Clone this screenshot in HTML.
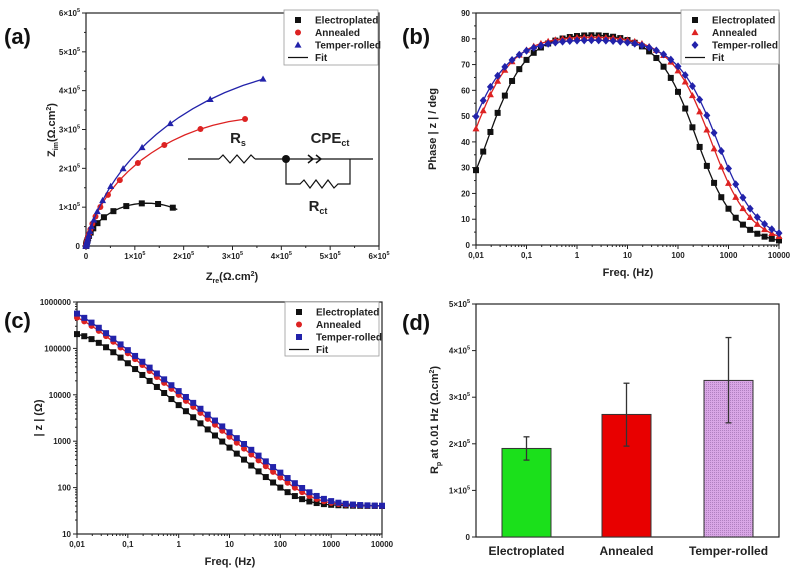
<!DOCTYPE html>
<html><head><meta charset="utf-8"><style>
html,body{margin:0;padding:0;background:#fff;}
svg{display:block;font-family:"Liberation Sans",Arial,sans-serif;}
.t{font-size:8px;font-weight:bold;fill:#222;}
.al{font-size:11px;font-weight:bold;fill:#222;}
.pl{font-size:22px;font-weight:bold;fill:#111;}
.lg{font-size:10px;font-weight:bold;fill:#222;}
</style></head><body>
<svg id="s" width="800" height="570" viewBox="0 0 800 570" xmlns="http://www.w3.org/2000/svg">
<text class="pl" x="4" y="44">(a)</text>
<text class="pl" x="402" y="44">(b)</text>
<text class="pl" x="4" y="328">(c)</text>
<text class="pl" x="402" y="330">(d)</text>
<g id="g"></g>
</svg>
<script>
var g=document.getElementById('g'),out='';
function L(x1,y1,x2,y2,c,w){out+='<line x1="'+x1+'" y1="'+y1+'" x2="'+x2+'" y2="'+y2+'" stroke="'+(c||'#222')+'" stroke-width="'+(w||1)+'"/>';}
function T(x,y,s,cls,anc,extra){out+='<text class="'+cls+'" x="'+x+'" y="'+y+'" text-anchor="'+(anc||'middle')+'" '+(extra||'')+'>'+s+'</text>';}
function M(type,x,y,c){var r=3;
 if(type=='s')out+='<rect x="'+(x-r)+'" y="'+(y-r)+'" width="'+2*r+'" height="'+2*r+'" fill="'+c+'"/>';
 else if(type=='c')out+='<circle cx="'+x+'" cy="'+y+'" r="'+r+'" fill="'+c+'"/>';
 else if(type=='t')out+='<polygon points="'+x+','+(y-3.6)+' '+(x-3.5)+','+(y+2.6)+' '+(x+3.5)+','+(y+2.6)+'" fill="'+c+'"/>';
 else if(type=='d')out+='<polygon points="'+x+','+(y-4)+' '+(x+3.5)+','+y+' '+x+','+(y+4)+' '+(x-3.5)+','+y+'" fill="'+c+'"/>';}
function P(pts,c){out+='<polyline fill="none" stroke="'+c+'" stroke-width="1.3" points="'+pts.map(p=>p[0].toFixed(1)+','+p[1].toFixed(1)).join(' ')+'"/>';}
function box(x1,y1,x2,y2){out+='<rect x="'+x1+'" y="'+y1+'" width="'+(x2-x1)+'" height="'+(y2-y1)+'" fill="none" stroke="#222" stroke-width="1.2"/>';}
var S=[{Rs:40,Rct:2.5e5,Q:3.07e-5,n:0.92,c:'#111'},{Rs:40,Rct:7.7e5,Q:1.9e-5,n:0.905,c:'#d22'},{Rs:40,Rct:1.1e6,Q:1.62e-5,n:0.89,c:'#22a'}];
function Z(s,f){var w=2*Math.PI*f,m=s.Q*Math.pow(w,s.n),a=s.n*Math.PI/2;
 var yr=1/s.Rct+m*Math.cos(a),yi=m*Math.sin(a),d=yr*yr+yi*yi;
 var zr=s.Rs+yr/d,zi=yi/d; return {r:zr,i:zi,mag:Math.hypot(zr,zi),ph:Math.atan2(zi,zr)*180/Math.PI};}
function sup(b,e){return b+'×10<tspan dy="-4" font-size="5.5">'+e+'</tspan>';}
function legend(x1,y1,x2,y2,items){out+='<rect x="'+x1+'" y="'+y1+'" width="'+(x2-x1)+'" height="'+(y2-y1)+'" fill="#fff" stroke="#999" stroke-width="0.8"/>';
 items.forEach((it,i)=>{var y=y1+10+i*12.5;if(it[0]=='l')L(x1+4,y,x1+24,y,'#111',1.3);else M(it[0],x1+14,y,it[1]);T(x1+31,y+3.5,it[2],'lg','start');});}
(function(){var X0=86,X1=379,Y0=246,Y1=13;var sx=v=>X0+v/6e5*(X1-X0),sy=v=>Y0-v/6e5*(Y0-Y1);
 box(X0,Y1,X1,Y0);
 for(var k=0;k<=6;k++){var x=sx(k*1e5),y=sy(k*1e5);L(x,Y0,x,Y0+4);L(X0-4,y,X0,y);
  T(x,Y0+13,k?sup(k,5):'0','t');T(X0-6,y+3,k?sup(k,5):'0','t','end');
  if(k<6){L(sx(k*1e5+5e4),Y0,sx(k*1e5+5e4),Y0+2);L(X0-2,sy(k*1e5+5e4),X0,sy(k*1e5+5e4));}}
 T(232,280,'Z<tspan dy="3" font-size="7">re</tspan><tspan dy="-3">(Ω.cm</tspan><tspan dy="-4" font-size="7">2</tspan><tspan dy="4">)</tspan>','al');
 out+='<text class="al" transform="translate(55,130) rotate(-90)" text-anchor="middle">Z<tspan dy="3" font-size="7">im</tspan><tspan dy="-3">(Ω.cm</tspan><tspan dy="-4" font-size="7">2</tspan><tspan dy="4">)</tspan></text>';
 var mk=['s','c','t'];var ends=[0.0085,0.0093,0.0096];
 S.forEach((s,j)=>{var pts=[];for(var e=4;e>=Math.log10(ends[j]);e-=0.05){var z=Z(s,Math.pow(10,e));pts.push([sx(z.r),sy(z.i)]);}P(pts,s.c);
  for(var k=0;k<=42;k++){var f=Math.pow(10,4-k/7);if(f<0.0099)break;var z=Z(s,f);if(z.i<3e3&&k%3)continue;M(mk[j],sx(z.r),sy(z.i),s.c);}});
 legend(284,10,378,65,[['s','#111','Electroplated'],['c','#d22','Annealed'],['t','#22a','Temper-rolled'],['l','','Fit']]);
 var cy=159;L(188,cy,219,cy,'#111',1.2);out+='<polyline fill="none" stroke="#111" stroke-width="1.2" points="219,159 223,155 230,163 237,155 244,163 251,155 255,159"/>';
 L(255,cy,373,cy,'#111',1.2);out+='<circle cx="286" cy="159" r="4" fill="#111"/>';
 out+='<polyline fill="none" stroke="#111" stroke-width="1.5" points="308,155 313,159 308,163"/><polyline fill="none" stroke="#111" stroke-width="1.5" points="316,155 321,159 316,163"/>';
 out+='<polyline fill="none" stroke="#111" stroke-width="1.2" points="286,159 286,184 300,184 304,180 310,188 316,180 322,188 328,180 334,188 338,184 350,184 350,159"/>';
 T(238,143,'R<tspan dy="3" font-size="9">s</tspan>','al','middle','style="font-size:15px"');
 T(330,143,'CPE<tspan dy="3" font-size="9">ct</tspan>','al','middle','style="font-size:15px"');
 T(318,211,'R<tspan dy="3" font-size="9">ct</tspan>','al','middle','style="font-size:15px"');
})();
function logX(X0,X1,Y0){var sx=f=>X0+(Math.log10(f)+2)/6*(X1-X0);var lab=['0,01','0,1','1','10','100','1000','10000'];
 for(var d=-2;d<=4;d++){var x=sx(Math.pow(10,d));L(x,Y0,x,Y0+4);T(x,Y0+13,lab[d+2],'t');if(d<4)for(var m=2;m<10;m++){var xm=sx(m*Math.pow(10,d));L(xm,Y0,xm,Y0+2);}}return sx;}
(function(){var X0=476,X1=779,Y0=245,Y1=13;box(X0,Y1,X1,Y0);var sx=logX(X0,X1,Y0),sy=v=>Y0-v/90*(Y0-Y1);
 for(var v=0;v<=90;v+=10){L(X0-4,sy(v),X0,sy(v));T(X0-6,sy(v)+3,v,'t','end');if(v<90)L(X0-2,sy(v+5),X0,sy(v+5));}
 T(628,276,'Freq. (Hz)','al');out+='<text class="al" transform="translate(436,129) rotate(-90)" text-anchor="middle">Phase | z | / deg</text>';
 var mk=['s','t','d'];S.forEach((s,j)=>{var pts=[];for(var e=-2;e<=4.001;e+=0.04){pts.push([sx(Math.pow(10,e)),sy(Z(s,Math.pow(10,e)).ph)]);}P(pts,s.c);
  for(var k=0;k<=42;k++){var f=Math.pow(10,-2+k/7);M(mk[j],sx(f),sy(Z(s,f).ph),s.c);}});
 legend(681,10,779,64,[['s','#111','Electroplated'],['t','#d22','Annealed'],['d','#22a','Temper-rolled'],['l','','Fit']]);
})();
(function(){var X0=77,X1=382,Y0=534,Y1=302;box(X0,Y1,X1,Y0);var sx=logX(X0,X1,Y0),sy=v=>Y0-(Math.log10(v)-1)/5*(Y0-Y1);
 var lab=['10','100','1000','10000','100000','1000000'];for(var d=1;d<=6;d++){var y=sy(Math.pow(10,d));L(X0-4,y,X0,y);T(X0-6,y+3,lab[d-1],'t','end');if(d<6)for(var m=2;m<10;m++)L(X0-2,sy(m*Math.pow(10,d)),X0,sy(m*Math.pow(10,d)));}
 T(230,565,'Freq. (Hz)','al');out+='<text class="al" transform="translate(42,418) rotate(-90)" text-anchor="middle">| z | (Ω)</text>';
 var mk=['s','c','s'];S.forEach((s,j)=>{var pts=[];for(var e=-2;e<=4.001;e+=0.04){pts.push([sx(Math.pow(10,e)),sy(Z(s,Math.pow(10,e)).mag)]);}P(pts,s.c);
  for(var k=0;k<=42;k++){var f=Math.pow(10,-2+k/7);M(mk[j],sx(f),sy(Z(s,f).mag),s.c);}});
 legend(285,302,379,356,[['s','#111','Electroplated'],['c','#d22','Annealed'],['s','#22a','Temper-rolled'],['l','','Fit']]);
})();
(function(){var X0=476,X1=779,Y0=537,Y1=304;box(X0,Y1,X1,Y0);var sy=v=>Y0-v/5e5*(Y0-Y1);
 for(var k=0;k<=5;k++){L(X0-4,sy(k*1e5),X0,sy(k*1e5));T(X0-6,sy(k*1e5)+3,k?sup(k,5):'0','t','end');}
 out+='<defs><pattern id="pp" width="2" height="2" patternUnits="userSpaceOnUse"><rect width="2" height="2" fill="#d9a6e6"/><rect width="1" height="1" fill="#b080c0"/></pattern></defs>';
 var B=[[502,1.9e5,2.15e5,1.65e5,'#1be01b','Electroplated'],[602,2.63e5,3.3e5,1.95e5,'#e80000','Annealed'],[704,3.36e5,4.28e5,2.45e5,'url(#pp)','Temper-rolled']];
 B.forEach(b=>{out+='<rect x="'+b[0]+'" y="'+sy(b[1])+'" width="49" height="'+(Y0-sy(b[1]))+'" fill="'+b[4]+'" stroke="#333" stroke-width="1"/>';
  var cx=b[0]+24.5;L(cx,sy(b[2]),cx,sy(b[3]),'#333',1.3);L(cx-3,sy(b[2]),cx+3,sy(b[2]),'#333',1.3);L(cx-3,sy(b[3]),cx+3,sy(b[3]),'#333',1.3);
  T(cx,555,b[5],'al','middle','style="font-size:12px"');});
 out+='<text class="al" transform="translate(438,420) rotate(-90)" text-anchor="middle">R<tspan dy="3" font-size="7">p</tspan><tspan dy="-3"> at 0.01 Hz (Ω.cm</tspan><tspan dy="-4" font-size="7">2</tspan><tspan dy="4">)</tspan></text>';
})();
g.innerHTML=out;
</script>
</body></html>
